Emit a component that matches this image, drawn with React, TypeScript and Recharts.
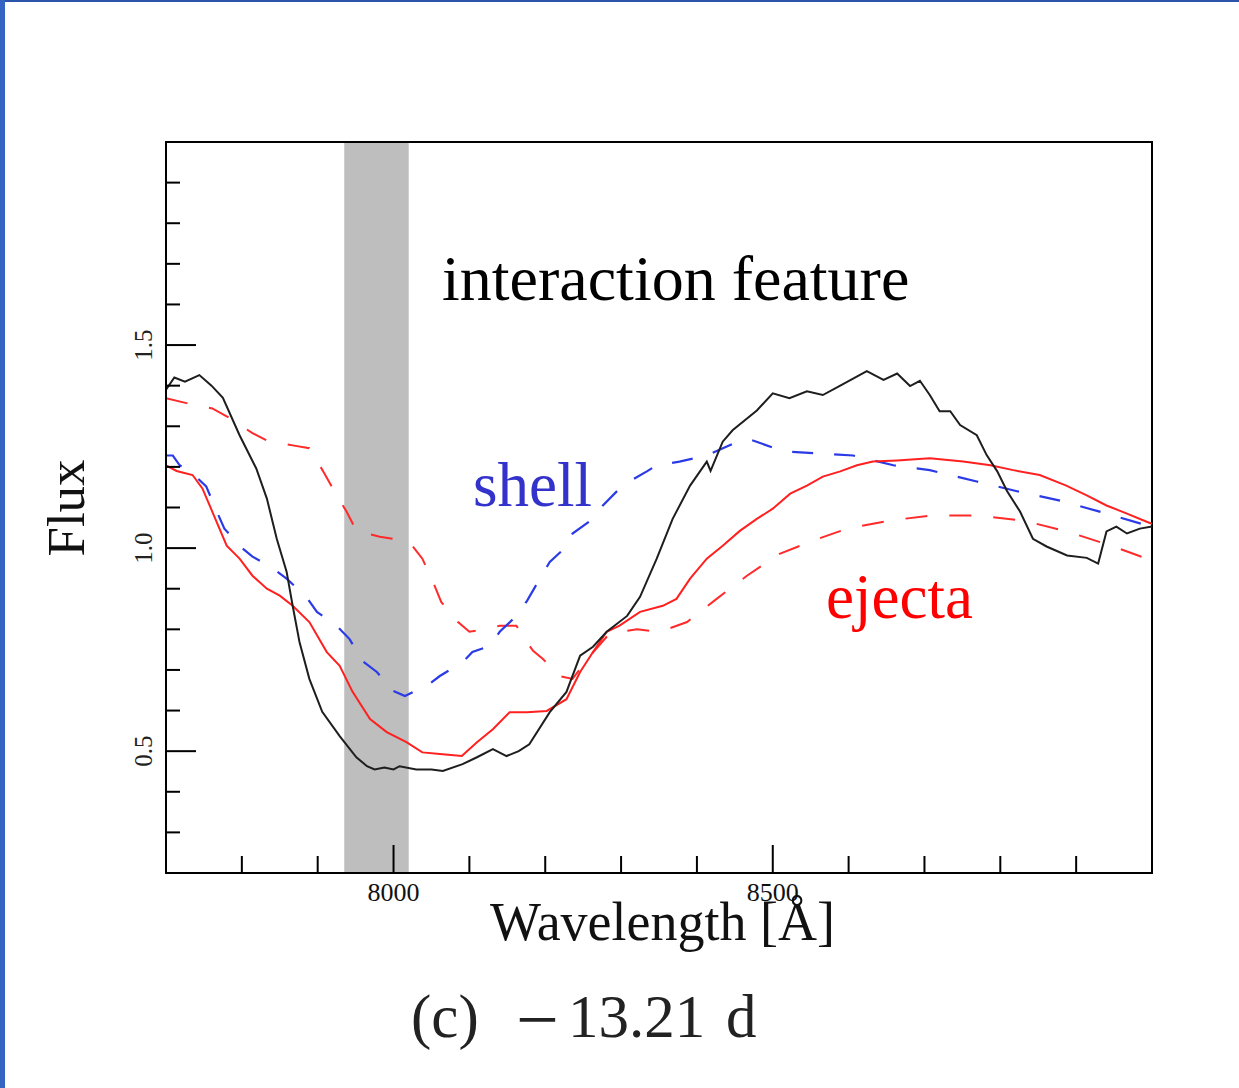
import { LineChart, Line, XAxis, YAxis, ReferenceArea } from 'recharts'

// observed spectrum (black, solid)
const OBS_WL = [7700, 7711, 7725, 7744, 7760, 7775, 7797, 7819, 7833, 7846, 7859, 7867, 7876, 7889, 7906, 7929, 7951, 7965, 7975, 7988, 8000, 8008, 8030, 8050, 8065, 8091, 8110, 8131, 8149, 8165, 8179, 8206, 8228, 8246, 8263, 8281, 8308, 8325, 8347, 8368, 8391, 8413, 8418, 8434, 8447, 8479, 8500, 8522, 8545, 8566, 8589, 8624, 8646, 8664, 8681, 8694, 8707, 8720, 8734, 8747, 8769, 8782, 8796, 8809, 8826, 8843, 8861, 8888, 8914, 8929, 8940, 8953, 8967, 8984, 9000]
const OBS_FLUX = [1.39, 1.42, 1.41, 1.426, 1.40, 1.37, 1.278, 1.196, 1.122, 1.023, 0.942, 0.858, 0.769, 0.678, 0.597, 0.537, 0.485, 0.463, 0.455, 0.46, 0.455, 0.463, 0.455, 0.455, 0.451, 0.468, 0.485, 0.505, 0.488, 0.50, 0.517, 0.596, 0.646, 0.735, 0.757, 0.794, 0.833, 0.88, 0.974, 1.072, 1.154, 1.213, 1.19, 1.262, 1.29, 1.339, 1.381, 1.369, 1.386, 1.377, 1.40, 1.436, 1.414, 1.43, 1.399, 1.412, 1.377, 1.337, 1.337, 1.303, 1.278, 1.229, 1.189, 1.14, 1.09, 1.023, 1.004, 0.982, 0.976, 0.962, 1.041, 1.053, 1.036, 1.048, 1.053]

// ejecta model (red, solid)
const EJ_WL = [7700, 7714, 7735, 7748, 7761, 7780, 7797, 7814, 7833, 7850, 7867, 7889, 7912, 7929, 7946, 7969, 7991, 8017, 8038, 8061, 8090, 8110, 8131, 8153, 8176, 8202, 8228, 8246, 8263, 8281, 8298, 8325, 8355, 8373, 8391, 8413, 8434, 8457, 8479, 8500, 8523, 8545, 8566, 8589, 8611, 8632, 8664, 8707, 8751, 8787, 8817, 8852, 8887, 8914, 8940, 8967, 8993, 9000]
const EJ_FLUX = [1.204, 1.19, 1.18, 1.147, 1.09, 1.006, 0.974, 0.932, 0.9, 0.883, 0.858, 0.818, 0.744, 0.71, 0.646, 0.579, 0.547, 0.522, 0.497, 0.493, 0.488, 0.522, 0.554, 0.596, 0.596, 0.599, 0.628, 0.695, 0.744, 0.794, 0.809, 0.843, 0.858, 0.875, 0.925, 0.974, 1.006, 1.043, 1.072, 1.097, 1.134, 1.154, 1.176, 1.189, 1.204, 1.213, 1.216, 1.221, 1.213, 1.204, 1.192, 1.18, 1.154, 1.13, 1.105, 1.085, 1.065, 1.06]

// shell model (blue, dashed)
const SH_WL = [7700, 7709, 7718, 7735, 7753, 7767, 7777, 7801, 7814, 7837, 7859, 7885, 7899, 7925, 7942, 7959, 7978, 7999, 8015, 8044, 8061, 8091, 8104, 8127, 8140, 8162, 8176, 8193, 8206, 8228, 8236, 8263, 8276, 8294, 8311, 8334, 8347, 8377, 8413, 8457, 8474, 8514, 8562, 8606, 8659, 8707, 8769, 8822, 8883, 8940, 8993, 9000]
const SH_FLUX = [1.228, 1.228, 1.204, 1.184, 1.152, 1.09, 1.048, 0.999, 0.979, 0.955, 0.925, 0.88, 0.843, 0.809, 0.776, 0.722, 0.695, 0.649, 0.636, 0.661, 0.685, 0.719, 0.744, 0.759, 0.794, 0.833, 0.87, 0.925, 0.966, 1.004, 1.036, 1.072, 1.105, 1.139, 1.164, 1.189, 1.204, 1.213, 1.228, 1.265, 1.265, 1.238, 1.233, 1.228, 1.204, 1.192, 1.164, 1.14, 1.115, 1.085, 1.056, 1.05]

// second ejecta model (red, dashed)
const EJ2_WL = [7700, 7727, 7761, 7784, 7814, 7833, 7867, 7889, 7907, 7922, 7938, 7951, 7982, 7999, 8025, 8038, 8052, 8063, 8085, 8100, 8124, 8140, 8162, 8170, 8184, 8197, 8219, 8236, 8259, 8285, 8321, 8351, 8387, 8426, 8466, 8509, 8554, 8598, 8655, 8707, 8769, 8830, 8888, 8949, 8993, 9000]
const EJ2_FLUX = [1.369, 1.357, 1.344, 1.32, 1.283, 1.265, 1.253, 1.246, 1.19, 1.14, 1.09, 1.043, 1.028, 1.023, 1.005, 0.974, 0.917, 0.867, 0.818, 0.794, 0.801, 0.809, 0.809, 0.784, 0.747, 0.727, 0.685, 0.678, 0.735, 0.79, 0.80, 0.794, 0.818, 0.875, 0.932, 0.986, 1.019, 1.048, 1.068, 1.08, 1.08, 1.068, 1.041, 1.004, 0.974, 0.97]

const X_TICKS = [7800, 7900, 8000, 8100, 8200, 8300, 8400, 8500, 8600, 8700, 8800, 8900]
const X_LABELS = [8000, 8500]
const Y_TICKS = [0.3, 0.4, 0.5, 0.6, 0.7, 0.8, 0.9, 1.0, 1.1, 1.2, 1.3, 1.4, 1.5, 1.6, 1.7, 1.8, 1.9]
const Y_LABELS = [0.5, 1.0, 1.5]
const BAND = [7935, 8020]

const zip = (wl: number[], flux: number[]) => wl.map((w, i) => ({ wl: w, flux: flux[i] }))

const SERIF = '"Liberation Serif", "Times New Roman", serif'

function XTick({ x, y, payload }: any) {
  const major = X_LABELS.includes(payload.value)
  return (
    <g>
      <line x1={x} x2={x} y1={y} y2={y - (major ? 28 : 17)} stroke="#000" strokeWidth={2} />
      {major && (
        <text x={x} y={y + 28} textAnchor="middle" fontSize={26} fontFamily={SERIF} fill="#111">
          {payload.value}
        </text>
      )}
    </g>
  )
}

function YTick({ x, y, payload }: any) {
  const major = Y_LABELS.some(l => Math.abs(l - payload.value) < 1e-6)
  return (
    <g>
      <line x1={x} x2={x + (major ? 30 : 14)} y1={y} y2={y} stroke="#000" strokeWidth={2} />
      {major && (
        <text transform={`translate(${x - 14}, ${y}) rotate(-90)`} textAnchor="middle" fontSize={25} fontFamily={SERIF} fill="#222">
          {payload.value.toFixed(1)}
        </text>
      )}
    </g>
  )
}

export default function App() {
  return (
    <div style={{ position: 'absolute', left: 0, top: 0, width: 1239, height: 1088, background: '#fff' }}>
      <div style={{ position: 'absolute', left: 0, top: 0, width: 1239, height: 2, background: '#2b55aa' }} />
      <div style={{ position: 'absolute', left: 0, top: 0, width: 5, height: 1088, background: '#3564c2' }} />

      <LineChart width={1239} height={1088} margin={{ top: 142, right: 87, bottom: 214, left: 165 }}>
        <XAxis
          type="number"
          dataKey="wl"
          domain={[7700, 9000]}
          ticks={X_TICKS}
          allowDataOverflow
          interval={0}
          height={1}
          tickSize={0}
          tickMargin={0}
          tickLine={false}
          axisLine={{ stroke: '#000', strokeWidth: 2 }}
          tick={(p: any) => <XTick {...p} />}
        />
        <YAxis
          type="number"
          domain={[0.2, 2.0]}
          ticks={Y_TICKS}
          allowDataOverflow
          interval={0}
          width={1}
          tickSize={0}
          tickMargin={0}
          tickLine={false}
          axisLine={{ stroke: '#000', strokeWidth: 2 }}
          tick={(p: any) => <YTick {...p} />}
        />
        <ReferenceArea x1={BAND[0]} x2={BAND[1]} y1={0.2} y2={2.0} fill="#bebebe" fillOpacity={1} stroke="none" />
        <Line data={zip(EJ2_WL, EJ2_FLUX)} dataKey="flux" stroke="#ff2a2a" strokeWidth={2} strokeDasharray="22 22" dot={false} isAnimationActive={false} />
        <Line data={zip(SH_WL, SH_FLUX)} dataKey="flux" stroke="#2a3ae6" strokeWidth={2.2} strokeDasharray="21 21" dot={false} isAnimationActive={false} />
        <Line data={zip(EJ_WL, EJ_FLUX)} dataKey="flux" stroke="#ff2020" strokeWidth={2} dot={false} isAnimationActive={false} />
        <Line data={zip(OBS_WL, OBS_FLUX)} dataKey="flux" stroke="#1e1e1e" strokeWidth={2} dot={false} isAnimationActive={false} />
        <ReferenceArea x1={7700} x2={9000} y1={0.2} y2={2.0} fill="none" stroke="#000" strokeWidth={2} />
      </LineChart>

      <svg width={1239} height={1088} style={{ position: 'absolute', left: 0, top: 0, pointerEvents: 'none' }}>
        <text x={442} y={300} fontSize={64} fontFamily={SERIF} fill="#000">interaction feature</text>
        <text x={473} y={506} fontSize={63} fontFamily={SERIF} fill="#3333cc">shell</text>
        <text x={826} y={618} fontSize={63} fontFamily={SERIF} fill="#ff0000">ejecta</text>
        <text transform="translate(84, 508) rotate(-90)" textAnchor="middle" fontSize={53} fontFamily={SERIF} fill="#111">Flux</text>
        <text x={490} y={940} fontSize={54} fontFamily={SERIF} fill="#111">Wavelength [Å]</text>
        <text x={411} y={1037} fontSize={61} fontFamily={SERIF} fill="#222">(c)</text>
        <text x={516} y={1045} fontSize={76} fontFamily={SERIF} fill="#222">−</text>
        <text x={568} y={1037} fontSize={61} fontFamily={SERIF} fill="#222">13.21</text>
        <text x={726} y={1037} fontSize={61} fontFamily={SERIF} fill="#222">d</text>
      </svg>
    </div>
  )
}
